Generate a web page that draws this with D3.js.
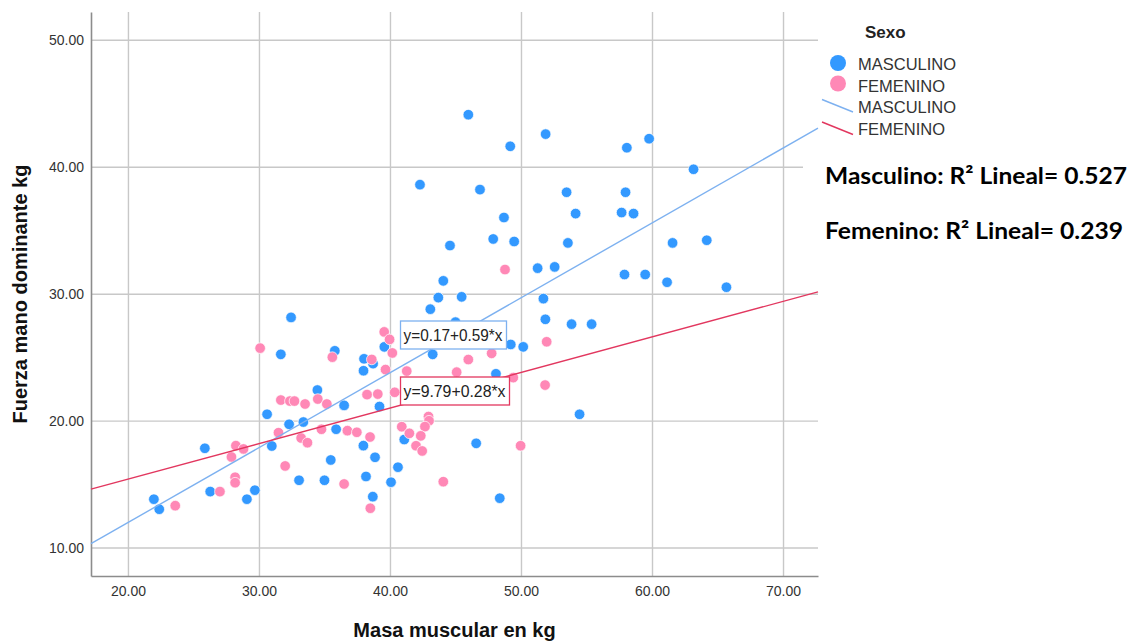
<!DOCTYPE html>
<html>
<head>
<meta charset="utf-8">
<script src="https://cdn.jsdelivr.net/npm/d3@7"></script>
<style>
  body { margin: 0; background: #fff; }
  svg { display: block; font-family: "Liberation Sans", Arial, sans-serif; }
</style>
</head>
<body>
<div id="chart"></div>
<script>
// masa muscular (x) y fuerza mano dominante (y), por sexo
var masaMasc = [45.98, 49.18, 51.88, 58.08, 59.78, 63.17, 42.29, 46.87, 53.48, 57.98,
  48.70, 54.17, 57.68, 58.59, 44.58, 47.88, 49.48, 53.58, 61.57, 64.18,
  51.27, 52.57, 57.90, 59.48, 61.15, 44.07, 65.68, 43.69, 45.47, 51.71,
  43.08, 51.86, 53.86, 55.39, 45.00, 49.22, 50.17, 43.26, 48.09, 54.47,
  41.09, 46.58, 40.61, 48.38, 32.45, 31.67, 35.79, 39.57, 38.02, 38.71,
  37.98, 34.46, 36.50, 39.20, 30.62, 32.30, 33.39, 35.89, 30.98, 37.97,
  25.87, 38.86, 35.48, 38.17, 33.06, 35.00, 40.08, 26.28, 29.69, 29.08,
  38.69, 21.98, 22.39];
var fuerzaMasc = [44.10, 41.61, 42.57, 41.50, 42.21, 39.80, 38.59, 38.20, 37.99, 37.99,
  36.00, 36.31, 36.39, 36.31, 33.79, 34.31, 34.11, 34.00, 34.00, 34.21,
  32.01, 32.11, 31.51, 31.51, 30.90, 31.01, 30.51, 29.69, 29.75, 29.61,
  28.78, 27.98, 27.60, 27.60, 27.76, 26.00, 25.81, 25.22, 23.69, 20.50,
  18.51, 18.21, 16.33, 13.89, 28.13, 25.22, 25.50, 25.81, 24.87, 24.49,
  23.93, 22.41, 21.20, 21.11, 20.50, 19.71, 19.89, 19.32, 18.00, 18.03,
  17.82, 17.11, 16.90, 15.60, 15.30, 15.30, 15.15, 14.41, 14.52, 13.81,
  14.01, 13.81, 13.02];

var masaFem = [48.78, 51.96, 47.76, 45.98, 41.28, 45.09, 49.41, 51.84, 42.94, 42.98,
  42.67, 40.90, 41.48, 42.35, 41.99, 42.46, 49.97, 44.07, 30.09, 35.60,
  39.56, 39.97, 40.18, 38.61, 39.66, 31.67, 32.36, 32.71, 33.52, 34.49,
  35.18, 38.25, 39.07, 40.36, 31.49, 34.77, 36.75, 37.47, 33.22, 33.70,
  38.48, 28.24, 28.82, 27.90, 32.00, 28.18, 28.18, 36.50, 27.02, 38.50,
  23.61];
var fuerzaFem = [31.90, 26.21, 25.30, 24.81, 23.90, 23.82, 23.39, 22.80, 20.32, 19.99,
  19.53, 19.52, 19.00, 18.80, 18.02, 17.61, 18.02, 15.19, 25.71, 25.00,
  26.99, 26.40, 25.33, 24.82, 24.02, 21.62, 21.54, 21.54, 21.31, 21.70,
  21.31, 22.05, 22.09, 22.23, 19.05, 19.32, 19.21, 19.08, 18.63, 18.26,
  18.71, 18.03, 17.77, 17.14, 16.43, 15.54, 15.11, 15.01, 14.41, 13.10,
  13.30];

// recta de ajuste: [intercepto, pendiente]
var ajusteMasc = [0.17, 0.59];
var ajusteFem = [9.79, 0.28];
var r2Masc = "0.527";
var r2Fem = "0.239";

var xTicks = [20, 30, 40, 50, 60, 70];
var yTicks = [10, 20, 30, 40, 50];
var grupos = ["MASCULINO", "FEMENINO"];

var width = 1137, height = 643;
var pLeft = 91, pRight = 818, pTop = 12, pBottom = 576;
var colorMasc = "#3399ff", colorFem = "#ff88b6";
var lineMasc = "#7db1f0", lineFem = "#e2375f";

var svg = d3.select("#chart").append("svg")
  .attr("width", width)
  .attr("height", height);

var x = d3.scaleLinear().domain([17.18, 72.67]).range([pLeft, pRight]);
var y = d3.scaleLinear().domain([7.76, 52.19]).range([pBottom, pTop]);

// rejilla
svg.append("g")
  .attr("transform", "translate(0," + pBottom + ")")
  .call(d3.axisBottom(x).tickValues(xTicks).tickSize(-(pBottom - pTop)).tickFormat(""))
  .call(function(g){ g.select(".domain").remove(); })
  .selectAll("line").attr("stroke", "#c8c8c8").attr("stroke-width", 1.4);

svg.append("g")
  .attr("transform", "translate(" + pLeft + ",0)")
  .call(d3.axisLeft(y).tickValues(yTicks).tickSize(-(pRight - pLeft)).tickFormat(""))
  .call(function(g){ g.select(".domain").remove(); })
  .selectAll("line").attr("stroke", "#c8c8c8").attr("stroke-width", 1.4);

// ejes
var xAxis = svg.append("g")
  .attr("transform", "translate(0," + pBottom + ")")
  .call(d3.axisBottom(x).tickValues(xTicks).tickSize(0).tickPadding(10).tickFormat(d3.format(".2f")));
xAxis.select(".domain").attr("stroke", "#8c8c8c").attr("stroke-width", 1.6);
xAxis.selectAll("text").attr("font-size", "14px").attr("fill", "#333")
  .attr("font-family", "Liberation Sans, Arial, sans-serif");

var yAxis = svg.append("g")
  .attr("transform", "translate(" + pLeft + ",0)")
  .call(d3.axisLeft(y).tickValues(yTicks).tickSize(0).tickPadding(7).tickFormat(d3.format(".2f")));
yAxis.select(".domain").attr("stroke", "#8c8c8c").attr("stroke-width", 1.6);
yAxis.selectAll("text").attr("font-size", "14px").attr("fill", "#333")
  .attr("font-family", "Liberation Sans, Arial, sans-serif");

// puntos
var masc = masaMasc.map(function(d, i){ return [d, fuerzaMasc[i]]; });
var fem = masaFem.map(function(d, i){ return [d, fuerzaFem[i]]; });

svg.selectAll("circle.masc")
  .data(masc)
  .enter().append("circle")
  .attr("class", "masc")
  .attr("cx", function(d){ return x(d[0]); })
  .attr("cy", function(d){ return y(d[1]); })
  .attr("r", 5.3)
  .attr("fill", colorMasc)
  .attr("stroke", "#fff")
  .attr("stroke-width", 0.7);

svg.selectAll("circle.fem")
  .data(fem)
  .enter().append("circle")
  .attr("class", "fem")
  .attr("cx", function(d){ return x(d[0]); })
  .attr("cy", function(d){ return y(d[1]); })
  .attr("r", 5.3)
  .attr("fill", colorFem)
  .attr("stroke", "#fff")
  .attr("stroke-width", 0.7);

// rectas
var xDom = x.domain();
function recta(a){
  return xDom.map(function(v){ return [v, a[0] + a[1] * v]; });
}
var line = d3.line()
  .x(function(d){ return x(d[0]); })
  .y(function(d){ return y(d[1]); });

svg.append("path").datum(recta(ajusteMasc))
  .attr("d", line).attr("fill", "none")
  .attr("stroke", lineMasc).attr("stroke-width", 1.4);
svg.append("path").datum(recta(ajusteFem))
  .attr("d", line).attr("fill", "none")
  .attr("stroke", lineFem).attr("stroke-width", 1.4);

// etiquetas de las ecuaciones
function etiqueta(txt, bx, by, w, col){
  svg.append("rect")
    .attr("x", bx).attr("y", by).attr("width", w).attr("height", 28)
    .attr("fill", "#fff").attr("stroke", col).attr("stroke-width", 1.3);
  svg.append("text")
    .attr("x", bx + 3).attr("y", by + 20)
    .attr("font-size", "16px").attr("fill", "#222")
    .attr("textLength", w - 7)
    .attr("lengthAdjust", "spacingAndGlyphs")
    .text(txt);
}
etiqueta("y=" + ajusteMasc[0].toFixed(2) + "+" + ajusteMasc[1].toFixed(2) + "*x", 400.5, 321, 106, lineMasc);
etiqueta("y=" + ajusteFem[0].toFixed(2) + "+" + ajusteFem[1].toFixed(2) + "*x", 400.5, 377, 109, lineFem);

// títulos de ejes
svg.append("text")
  .attr("x", (pLeft + pRight) / 2).attr("y", 637)
  .attr("text-anchor", "middle")
  .attr("font-size", "20px").attr("font-weight", "bold").attr("fill", "#111")
  .text("Masa muscular en kg");

svg.append("text")
  .attr("transform", "translate(27," + ((pTop + pBottom) / 2) + ") rotate(-90)")
  .attr("text-anchor", "middle")
  .attr("font-size", "20px").attr("font-weight", "bold").attr("fill", "#111")
  .text("Fuerza mano dominante kg");

// leyenda
var leg = svg.append("g");
leg.append("text")
  .attr("x", 865).attr("y", 38)
  .attr("font-size", "17px").attr("font-weight", "bold").attr("fill", "#222")
  .text("Sexo");

leg.selectAll("circle")
  .data([colorMasc, colorFem])
  .enter().append("circle")
  .attr("cx", 838)
  .attr("cy", function(d, i){ return 63 + i * 20.5; })
  .attr("r", 8)
  .attr("fill", function(d){ return d; });

leg.selectAll("line")
  .data([lineMasc, lineFem])
  .enter().append("line")
  .attr("x1", 822).attr("x2", 853)
  .attr("y1", function(d, i){ return 99.5 + i * 22.5; })
  .attr("y2", function(d, i){ return 112 + i * 22.5; })
  .attr("stroke", function(d){ return d; })
  .attr("stroke-width", 1.4);

leg.selectAll("text.item")
  .data(grupos.concat(grupos))
  .enter().append("text")
  .attr("class", "item")
  .attr("x", 858)
  .attr("y", function(d, i){ return 70 + i * 21.7; })
  .attr("font-size", "16.5px").attr("fill", "#333")
  .text(function(d){ return d; });

// R cuadrado
svg.append("rect")
  .attr("x", 803).attr("y", 150).attr("width", 334).attr("height", 100)
  .attr("fill", "#fff");
svg.append("text")
  .attr("x", 825).attr("y", 184)
  .attr("font-family", "Lato, sans-serif")
  .attr("font-size", "23.5px").attr("font-weight", "bold").attr("fill", "#000")
  .attr("textLength", 302)
  .attr("lengthAdjust", "spacingAndGlyphs")
  .text("Masculino: R\u00b2 Lineal= " + r2Masc);
svg.append("text")
  .attr("x", 825).attr("y", 239)
  .attr("font-family", "Lato, sans-serif")
  .attr("font-size", "23.5px").attr("font-weight", "bold").attr("fill", "#000")
  .attr("textLength", 298)
  .attr("lengthAdjust", "spacingAndGlyphs")
  .text("Femenino: R\u00b2 Lineal= " + r2Fem);
</script>
</body>
</html>
